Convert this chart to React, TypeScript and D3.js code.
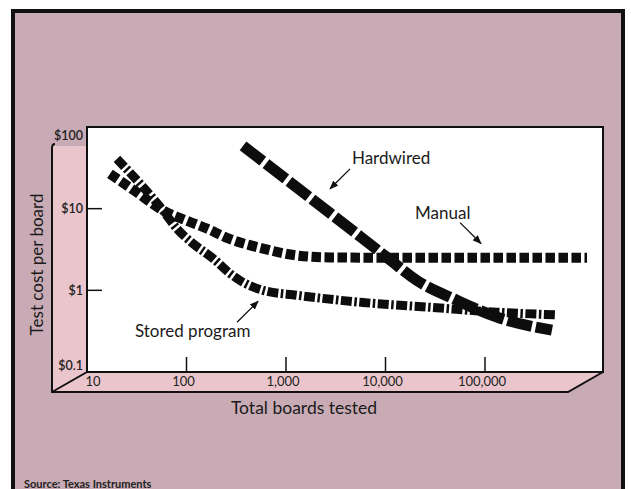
import * as d3 from 'd3'

// values (boards tested, test cost per board in $)
const hardwiredBoards = [370, 3490, 10350, 20700, 52300, 132000, 471000]
const hardwiredCost = [58.6, 7.1, 2.53, 1.32, 0.755, 0.47, 0.325]

const manualBoards = [17, 30, 58, 101, 161, 255, 587, 1290, 2770, 20000, 1060000]
const manualCost = [26.7, 16.6, 9.5, 7.1, 5.7, 4.4, 3.25, 2.67, 2.53, 2.5, 2.5]

const storedBoards = [20, 58, 80, 116, 185, 273, 345, 587, 1290, 5940, 28000, 132000, 530000]
const storedCost = [40.7, 9.5, 5.7, 3.74, 2.46, 1.61, 1.32, 1.0, 0.87, 0.71, 0.62, 0.54, 0.5]

const boardTicks = [10, 100, 1000, 10000, 100000]
const boardTickLabels = ['10', '100', '1,000', '10,000', '100,000']
const costTicks = [100, 10, 1, 0.1]
const costTickLabels = ['$100', '$10', '$1', '$0.1']

// annotation anchors in data units: label position, arrow start, arrow tip
const annotations = [
  { text: 'Hardwired', at: [4600, 41.9], from: [4400, 30.7], to: [2770, 17.5] },
  { text: 'Manual', at: [19800, 8.94], from: [56100, 6.75], to: [91200, 3.74] },
  { text: 'Stored program', at: [30.3, 0.316], from: [322, 0.407], to: [524, 0.734] },
]

const W = 631
const H = 489
const plot = { left: 87, right: 603, top: 127, bottom: 372 }
const depth = { dx: -35, dy: 20 }

const MAUVE = '#c9abb5'
const PINK = '#eac6cc'
const FONT = 'Lato, "DejaVu Sans", sans-serif'

export default function App() {
  const x = d3.scaleLog().domain([10, 100000]).range([plot.left, plot.left + 398])
  const y = d3.scaleLog().domain([0.1, 100]).range([plot.bottom, plot.top])

  const line = d3
    .line<[number, number]>()
    .x((d) => x(d[0]))
    .y((d) => y(d[1]))
    .curve(d3.curveMonotoneX)

  const zip = (a: number[], b: number[]) => a.map((v, i) => [v, b[i]] as [number, number])

  const series = [
    { key: 'hardwired', pts: zip(hardwiredBoards, hardwiredCost), width: 11, dash: '25 4' },
    { key: 'manual', pts: zip(manualBoards, manualCost), width: 10, dash: '9.5 3.5' },
    { key: 'stored', pts: zip(storedBoards, storedCost), width: 9, dash: '11 2.5 2.5 2.5' },
  ]

  const lx = plot.left + depth.dx
  const by = plot.bottom + depth.dy

  return (
    <svg
      width={W}
      height={H}
      style={{ position: 'absolute', left: 0, top: 0, background: '#fff' }}
    >
      <defs>
        <marker id="arr" viewBox="0 0 10 10" refX="9" refY="5" markerWidth="7" markerHeight="7" orient="auto">
          <path d="M0,1 L10,5 L0,9 Z" fill="#111" />
        </marker>
      </defs>

      {/* outer frame */}
      <rect x={13} y={11} width={610} height={500} fill={MAUVE} stroke="#111" strokeWidth={4} />

      {/* left wall */}
      <path
        d={`M${lx},${plot.top + 19} L${plot.left},${plot.top + 19} L${plot.left},${plot.bottom} L${lx},${by} Z`}
        fill={PINK}
      />
      {/* floor */}
      <path
        d={`M${plot.left},${plot.bottom} L${plot.right},${plot.bottom} L${plot.right + depth.dx},${by} L${lx},${by} Z`}
        fill={PINK}
      />
      {/* back plane */}
      <rect
        x={plot.left}
        y={plot.top}
        width={plot.right - plot.left}
        height={plot.bottom - plot.top}
        fill="#fff"
        stroke="#111"
        strokeWidth={2}
      />
      {/* wall and floor edges */}
      <path
        d={`M${lx + 3},${plot.top + 17} Q${lx},${plot.top + 17} ${lx},${plot.top + 21} L${lx},${by} L${plot.right + depth.dx},${by} L${plot.right},${plot.bottom}`}
        fill="none"
        stroke="#111"
        strokeWidth={2}
      />
      <line x1={lx} y1={by} x2={plot.left} y2={plot.bottom} stroke="#111" strokeWidth={2} />

      {/* y ticks */}
      {costTicks.map((c, i) => {
        const yy = y(c)
        const ly = Math.min(Math.max(yy, plot.top + 9), plot.bottom - 6)
        return (
          <g key={c}>
            {i > 0 && i < costTicks.length - 1 && (
              <line x1={plot.left} x2={plot.left + 15} y1={yy} y2={yy} stroke="#111" strokeWidth={1.5} />
            )}
            <text
              x={plot.left - 4}
              y={ly}
              dy="0.35em"
              textAnchor="end"
              fontFamily={FONT}
              fontSize={12.5}
              fontWeight={600}
              fill="#222"
            >
              {costTickLabels[i]}
            </text>
          </g>
        )
      })}

      {/* x ticks */}
      {boardTicks.map((b, i) => {
        const xx = x(b)
        return (
          <g key={b}>
            {i > 0 && (
              <line x1={xx} x2={xx} y1={plot.bottom} y2={plot.bottom - 15} stroke="#111" strokeWidth={1.5} />
            )}
            <text
              x={i === 0 ? xx + 6 : xx - 3}
              y={plot.bottom + 14}
              textAnchor="middle"
              fontFamily={FONT}
              fontSize={13}
              fill="#222"
            >
              {boardTickLabels[i]}
            </text>
          </g>
        )
      })}

      {/* curves */}
      {series.map((s) => (
        <path
          key={s.key}
          d={line(s.pts) ?? ''}
          fill="none"
          stroke="#0d0d0d"
          strokeWidth={s.width}
          strokeDasharray={s.dash}
        />
      ))}

      {/* annotations */}
      {annotations.map((a) => (
        <g key={a.text}>
          <text
            x={x(a.at[0])}
            y={y(a.at[1])}
            dy="0.35em"
            fontFamily={FONT}
            fontSize={17}
            fill="#1a1a1a"
          >
            {a.text}
          </text>
          <line
            x1={x(a.from[0])}
            y1={y(a.from[1])}
            x2={x(a.to[0])}
            y2={y(a.to[1])}
            stroke="#111"
            strokeWidth={1.3}
            markerEnd="url(#arr)"
          />
        </g>
      ))}

      {/* axis titles */}
      <text
        x={304}
        y={by + 22}
        textAnchor="middle"
        fontFamily={FONT}
        fontSize={17.5}
        fill="#1a1a1a"
      >
        Total boards tested
      </text>
      <text
        transform={`translate(37,${(plot.top + by) / 2 + 5}) rotate(-90)`}
        textAnchor="middle"
        dy="0.35em"
        fontFamily={FONT}
        fontSize={17}
        fill="#1a1a1a"
      >
        Test cost per board
      </text>

      <text x={24} y={488} fontFamily={FONT} fontSize={11} fontWeight={700} fill="#222">
        Source: Texas Instruments
      </text>
    </svg>
  )
}
